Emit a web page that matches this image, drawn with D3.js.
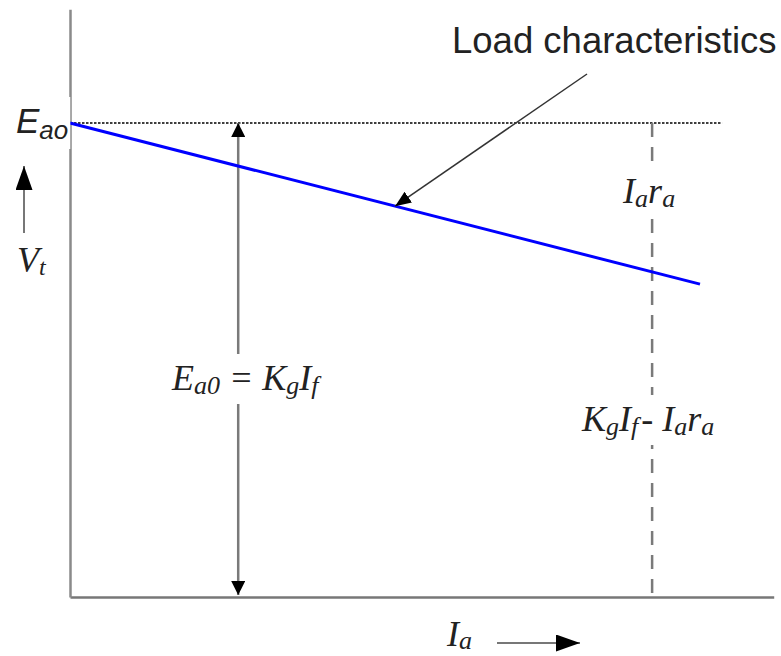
<!DOCTYPE html>
<html>
<head>
<meta charset="utf-8">
<script src="https://cdn.jsdelivr.net/npm/d3@7"></script>
<style>
  body { margin: 0; background: #fff; }
  svg { display: block; }
</style>
</head>
<body>
<svg id="chart" width="781" height="656"></svg>
<script>
// --- data (Ia and Vt in % of rated / no-load emf) ---
const loadIa = [0, 100];           // load characteristic end points
const loadVt = [100, 66];
const eaoLevel = 100;              // no-load emf Eao
const eaoLineEnd = 103.5;          // dotted reference reaches this far
const dropIa = 92.4;               // where the IaRa drop is shown
const eqArrowIa = 26.7;            // double arrow Ea0 = KgIf
const pointerIa = 51.6;            // where the callout touches the line
const axisMax = { ia: 111.7, vt: 124 };

const svg = d3.select("#chart");

// --- scales ---
const x = d3.scaleLinear().domain([0, 100]).range([70, 700]);
const y = d3.scaleLinear().domain([0, 100]).range([597, 123]);

const serif = "'Liberation Serif', 'Times New Roman', serif";
const sans = "'Liberation Sans', Arial, sans-serif";

// --- markers ---
const defs = svg.append("defs");
function marker(id, len, wid) {
    defs.append("marker")
        .attr("id", id)
        .attr("markerUnits", "userSpaceOnUse")
        .attr("viewBox", `0 ${-wid / 2} ${len} ${wid}`)
        .attr("refX", len).attr("refY", 0)
        .attr("markerWidth", len).attr("markerHeight", wid)
        .attr("orient", "auto-start-reverse")
        .append("path")
        .attr("d", `M0,${-wid / 2}L${len},0L0,${wid / 2}Z`)
        .attr("fill", "#000");
}
marker("head", 14, 14);
marker("headBig", 24, 17);
marker("headSmall", 16, 13);

// --- axes (no ticks, just the lines) ---
const xAxisScale = x.copy().domain([0, axisMax.ia]).range([x(0), x(axisMax.ia)]);
const yAxisScale = y.copy().domain([0, axisMax.vt]).range([y(0), y(axisMax.vt)]);

svg.append("g")
    .attr("transform", `translate(0,${y(0)})`)
    .call(d3.axisBottom(xAxisScale).tickValues([]).tickSizeOuter(0))
    .select(".domain").attr("stroke", "#777").attr("stroke-width", 2.5);

svg.append("g")
    .attr("transform", `translate(${x(0)},0)`)
    .call(d3.axisLeft(yAxisScale).tickValues([]).tickSizeOuter(0))
    .select(".domain").attr("stroke", "#8a8a8a").attr("stroke-width", 2.5);

// --- dotted Eao reference ---
svg.append("line")
    .attr("x1", x(0)).attr("x2", x(eaoLineEnd))
    .attr("y1", y(eaoLevel)).attr("y2", y(eaoLevel))
    .attr("stroke", "#000").attr("stroke-width", 1.5)
    .attr("stroke-dasharray", "2.5,1.5");

// --- dashed drop line ---
svg.append("line")
    .attr("x1", x(dropIa)).attr("x2", x(dropIa))
    .attr("y1", y(eaoLevel)).attr("y2", y(0))
    .attr("stroke", "#7a7a7a").attr("stroke-width", 2.5)
    .attr("stroke-dasharray", "14,10");

// --- double arrow Ea0 = KgIf ---
svg.append("line")
    .attr("x1", x(eqArrowIa)).attr("x2", x(eqArrowIa))
    .attr("y1", y(eaoLevel)).attr("y2", y(0) - 2)
    .attr("stroke", "#7a7a7a").attr("stroke-width", 2.5)
    .attr("marker-start", "url(#head)")
    .attr("marker-end", "url(#head)");

// --- load characteristic ---
const loadData = loadIa.map((d, i) => ({ ia: d, vt: loadVt[i] }));
svg.append("path")
    .datum(loadData)
    .attr("d", d3.line().x(d => x(d.ia)).y(d => y(d.vt)))
    .attr("fill", "none")
    .attr("stroke", "#0000ff")
    .attr("stroke-width", 3);

// --- callout ---
const pointerVt = d3.interpolateNumber(loadVt[0], loadVt[1])((pointerIa - loadIa[0]) / (loadIa[1] - loadIa[0]));
svg.append("line")
    .attr("x1", 587).attr("y1", 74)
    .attr("x2", x(pointerIa)).attr("y2", y(pointerVt))
    .attr("stroke", "#333").attr("stroke-width", 1.5)
    .attr("marker-end", "url(#headSmall)");

svg.append("text")
    .attr("x", 452).attr("y", 53)
    .style("font-family", sans).style("font-size", "36.5px")
    .attr("fill", "#222")
    .text("Load characteristics");

// --- math labels, with white boxes to break the lines behind them ---
function mathLabel(px, py, parts, size, family, anchor) {
    const g = svg.append("g");
    const bg = g.append("rect").attr("fill", "#fff");
    const t = g.append("text")
        .attr("x", px).attr("y", py)
        .attr("text-anchor", anchor || "start")
        .style("font-family", family)
        .style("font-style", "italic")
        .style("font-size", size + "px")
        .attr("fill", "#222");
    parts.forEach(p => {
        t.append("tspan")
            .attr("dx", p.dx || 0)
            .attr("dy", p.dy || 0)
            .style("font-size", (p.size || size) + "px")
            .text(p.s);
    });
    const b = t.node().getBBox();
    bg.attr("x", b.x - 2).attr("y", b.y - 4)
        .attr("width", b.width + 4).attr("height", b.height + 8);
}

// Eao at the top of the voltage axis
mathLabel(16, 133, [{ s: "E" }, { s: "ao", size: 26, dy: 6 }], 35, sans);

// Vt with its arrow
svg.append("line")
    .attr("x1", 24).attr("x2", 24).attr("y1", 233).attr("y2", 166)
    .attr("stroke", "#777").attr("stroke-width", 2)
    .attr("marker-end", "url(#headBig)");
mathLabel(17, 272, [{ s: "V" }, { s: "t", size: 24, dy: 3 }], 36, serif);

// Ia with its arrow
mathLabel(447, 646, [{ s: "I" }, { s: "a", size: 26, dy: 3 }], 36, serif);
svg.append("line")
    .attr("x1", 497).attr("x2", 580).attr("y1", 643).attr("y2", 643)
    .attr("stroke", "#777").attr("stroke-width", 2)
    .attr("marker-end", "url(#headBig)");

// IaRa drop label
mathLabel(x(dropIa) - 3, 203,
    [{ s: "I" }, { s: "a", size: 26, dy: 4 }, { s: "r", dy: -4 }, { s: "a", size: 26, dy: 4 }],
    36, serif, "middle");

// KgIf - IaRa label
mathLabel(582, 431,
    [{ s: "K" }, { s: "g", size: 26, dy: 4 }, { s: "I", dy: -4 }, { s: "f", size: 26, dy: 4 },
     { s: "- ", dx: 3, dy: -4 }, { s: "I" }, { s: "a", size: 26, dy: 4 }, { s: "r", dy: -4 }, { s: "a", size: 26, dy: 4 }],
    36, serif);

// Ea0 = KgIf
mathLabel(172, 390,
    [{ s: "E" }, { s: "a0", size: 26, dy: 4 }, { s: " = ", dy: -4 },
     { s: "K" }, { s: "g", size: 26, dy: 4 }, { s: "I", dy: -4 }, { s: "f", size: 26, dy: 4 }],
    36, serif);
</script>
</body>
</html>
